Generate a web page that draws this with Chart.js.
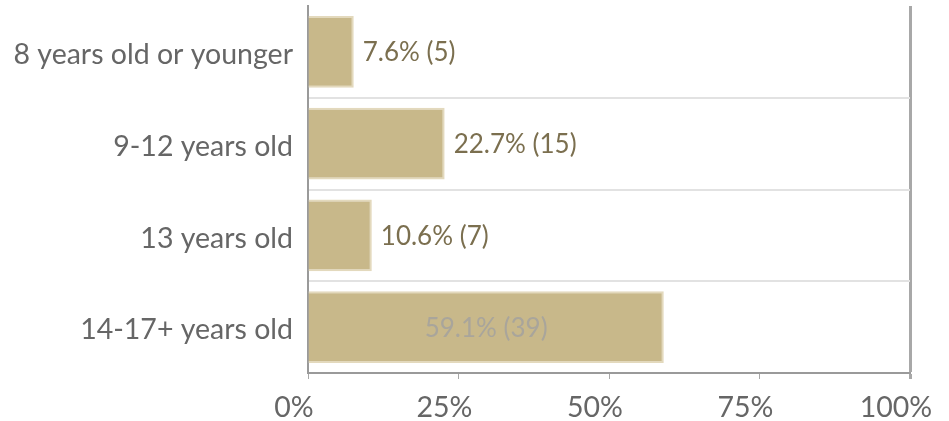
<!DOCTYPE html>
<html>
<head>
<meta charset="utf-8">
<script src="https://cdn.jsdelivr.net/npm/chart.js@4"></script>
<style>
  html, body { margin: 0; padding: 0; background: #fff; }
  #wrap { width: 949px; height: 421px; position: relative; }
</style>
</head>
<body>
<div id="wrap"><canvas id="chart"></canvas></div>
<script>
/* Age groups — percent of respondents */
const categories = ["8 years old or younger", "9-12 years old", "13 years old", "14-17+ years old"];
const percents = [7.6, 22.7, 10.6, 59.1];
const counts = [5, 15, 7, 39];
const xTicks = [0, 25, 50, 75, 100];

const BAR = "#c8b88a";
const BAR_EDGE = "#e3d9bd";
const FONT = "Lato, 'Open Sans', sans-serif";

// draws "7.6% (5)" next to each bar, or inside when the bar is long
const valueLabels = {
  id: "valueLabels",
  afterDatasetsDraw(chart) {
    const ctx = chart.ctx;
    const meta = chart.getDatasetMeta(0);
    ctx.save();
    ctx.font = "26px " + FONT;
    ctx.textBaseline = "middle";
    meta.data.forEach((bar, i) => {
      const txt = percents[i].toFixed(1) + "% (" + counts[i] + ")";
      if (percents[i] > 50) {
        ctx.fillStyle = "#a9a59b";
        ctx.textAlign = "center";
        ctx.fillText(txt, (bar.base + bar.x) / 2, bar.y + 1);
      } else {
        ctx.fillStyle = "#7b6f4f";
        ctx.textAlign = "left";
        ctx.fillText(txt, bar.x + 9, bar.y + 1);
      }
    });
    ctx.restore();
  }
};

new Chart(document.getElementById("chart"), {
  type: "bar",
  data: {
    labels: categories,
    datasets: [{
      data: percents,
      backgroundColor: BAR,
      borderColor: BAR_EDGE,
      borderWidth: 2,
      borderSkipped: "left",
      barPercentage: 0.78,
      categoryPercentage: 1
    }]
  },
  options: {
    indexAxis: "y",
    responsive: true, maintainAspectRatio: false,
    animation: false,
    layout: { padding: { top: 6, right: 39, left: 0, bottom: 0 } },
    plugins: { legend: { display: false }, tooltip: { enabled: false } },
    scales: {
      x: {
        min: 0, max: 100,
        afterBuildTicks: s => { s.ticks = xTicks.map(v => ({ value: v })); },
        afterFit: s => { s.height = 48; s.paddingLeft = 0; s.paddingRight = 0; },
        border: { color: "#9a9a9a", width: 2 },
        grid: {
          color: c => c.tick && c.tick.value === 100 ? "#a8a8a8" : "transparent",
          lineWidth: c => c.tick && c.tick.value === 100 ? 3 : 1,
          tickColor: "#a8a8a8",
          tickLength: 6
        },
        ticks: {
          color: "#666",
          font: { family: FONT, size: 28.5 },
          padding: 12,
          labelOffset: -14,
          callback: v => v + "%"
        }
      },
      y: {
        afterFit: s => { s.width = 308; s.paddingTop = 0; s.paddingBottom = 0; },
        border: { color: "#9a9a9a", width: 2 },
        grid: {
          offset: true,
          drawTicks: false,
          color: c => c.index === 0 ? "transparent" : "#e2e2e2",
          lineWidth: 2
        },
        ticks: {
          color: "#666",
          font: { family: FONT, size: 28.5 },
          padding: 15,
          labelOffset: 3
        }
      }
    }
  },
  plugins: [valueLabels]
});
</script>
</body>
</html>
